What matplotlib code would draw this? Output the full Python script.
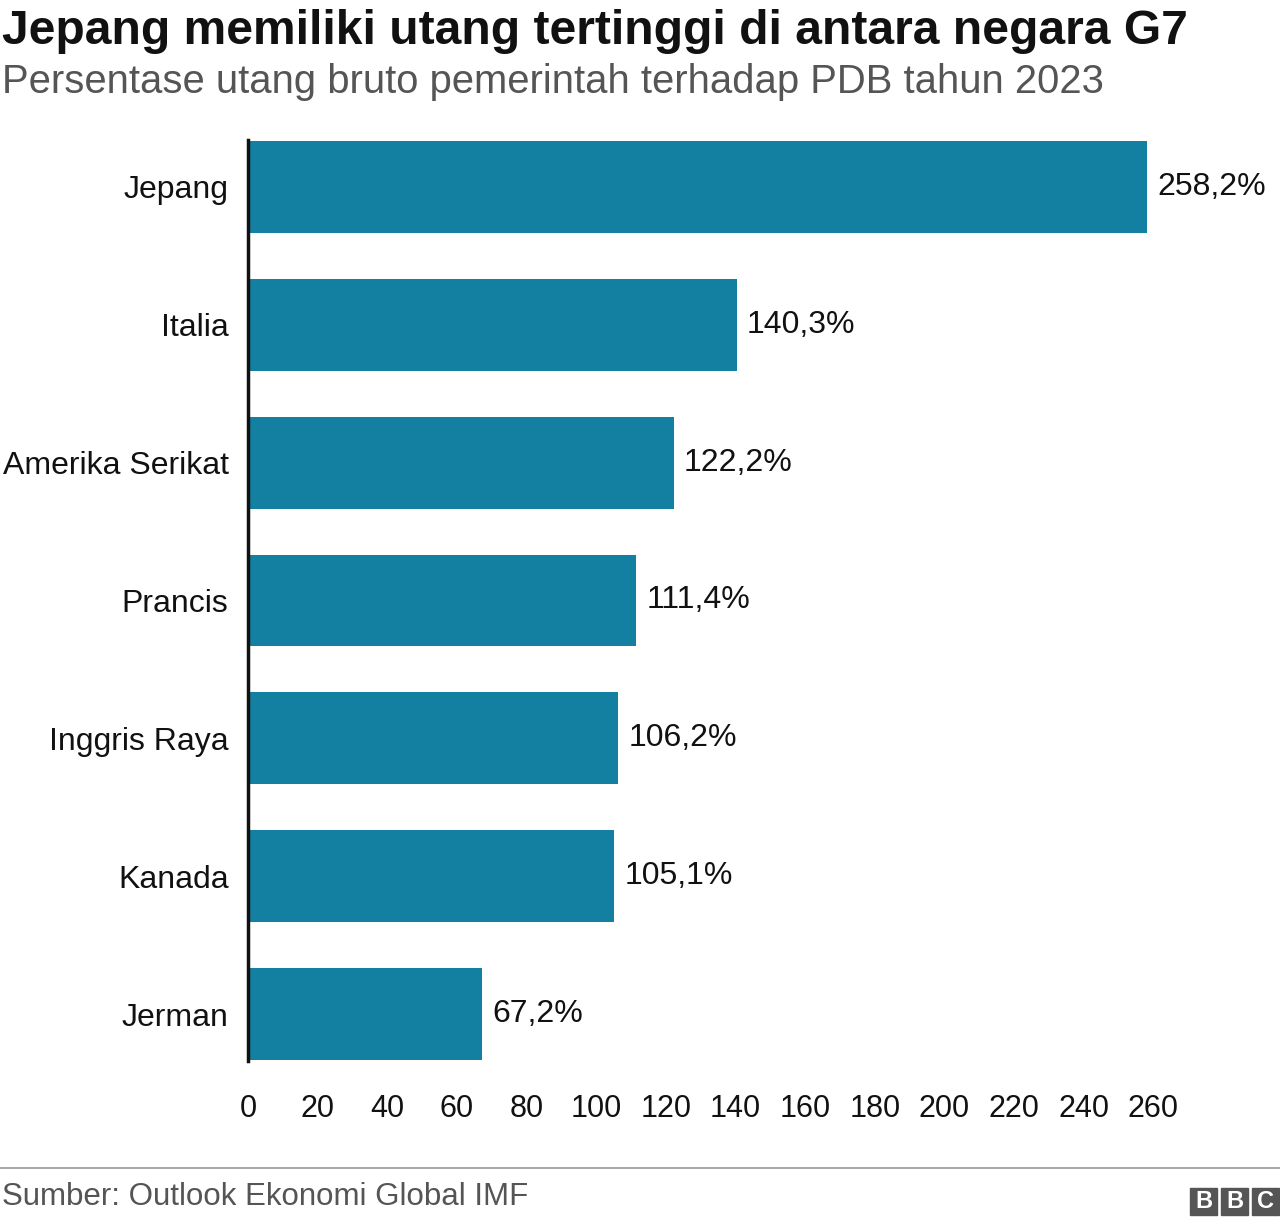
import matplotlib.pyplot as plt
from matplotlib.patches import Rectangle
from matplotlib.lines import Line2D

plt.rcParams["font.family"] = "Liberation Sans"

countries = ["Jepang", "Italia", "Amerika Serikat", "Prancis", "Inggris Raya", "Kanada", "Jerman"]
debt = [258.2, 140.3, 122.2, 111.4, 106.2, 105.1, 67.2]
labels = ["258,2%", "140,3%", "122,2%", "111,4%", "106,2%", "105,1%", "67,2%"]
ticks = list(range(0, 261, 20))

fig = plt.figure(figsize=(12.8, 12.24), dpi=100)
ax = fig.add_axes([248 / 1280, 1 - 1061 / 1224, 1 - 248 / 1280, 921 / 1224])

y = range(len(countries))
ax.barh(y, debt, height=0.667, color="#1380A1")
for yi, v, lab in zip(y, debt, labels):
    ax.text(v + 3, yi, lab, va="center", ha="left", fontsize=23, color="#111111")

ax.set_xlim(0, (1280 - 248) / 3.482)
ax.set_ylim(6.34, -0.34)
ax.set_yticks(list(y))
ax.set_yticklabels(countries, fontsize=23, color="#111111")
ax.set_xticks(ticks)
ax.set_xticklabels([str(t) for t in ticks], fontsize=22, color="#111111")
ax.tick_params(axis="both", length=0)
ax.tick_params(axis="y", pad=14)
ax.tick_params(axis="x", pad=24)
for s in ["top", "right", "bottom"]:
    ax.spines[s].set_visible(False)
ax.spines["left"].set_linewidth(2.5)
ax.spines["left"].set_color("#111111")

fig.text(2 / 1280, 1 - 32 / 1224, "Jepang memiliki utang tertinggi di antara negara G7",
         fontsize=34.6, fontweight="bold", color="#111111", va="center")
fig.text(2 / 1280, 1 - 82 / 1224, "Persentase utang bruto pemerintah terhadap PDB tahun 2023",
         fontsize=28.8, color="#555555", va="center")

fig.add_artist(Line2D([0, 1], [1 - 1168 / 1224] * 2, color="#999999", lw=1.2))
fig.text(2 / 1280, 1 - 1197 / 1224, "Sumber: Outlook Ekonomi Global IMF",
         fontsize=22.5, color="#555555", va="center")

# BBC blocks
for i, ch in enumerate("BBC"):
    x0 = 1190 + i * 31
    fig.add_artist(Rectangle((x0 / 1280, 1 - 1215 / 1224), 27 / 1280, 27 / 1224,
                             transform=fig.transFigure, color="#555555"))
    fig.text((x0 + 13.5) / 1280, 1 - 1201.5 / 1224, ch, fontsize=17, fontweight="bold",
             color="white", ha="center", va="center")

plt.savefig("out.png", dpi=100)
